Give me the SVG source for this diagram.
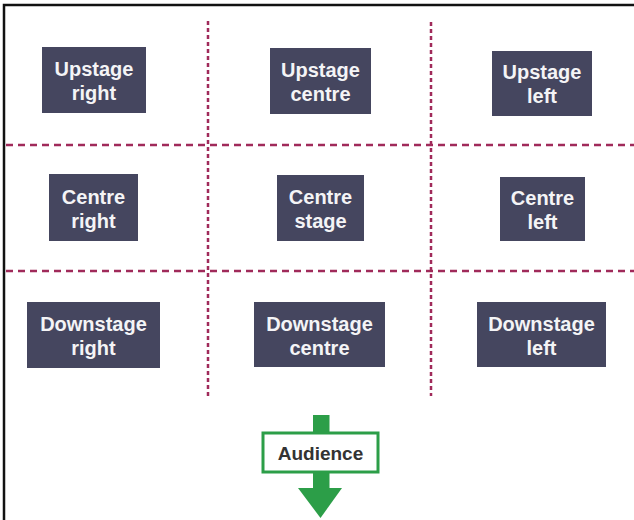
<svg xmlns="http://www.w3.org/2000/svg" width="634" height="520" viewBox="0 0 634 520">
<defs>
<style>
.box{fill:#45465f}
.lbl{font-family:"Liberation Sans",Arial,sans-serif;font-weight:bold;font-size:20px;fill:#f4f4f6;text-anchor:middle}
.hd{stroke:#a02a5a;stroke-width:2.5;stroke-dasharray:7 5;fill:none}
.vd{stroke:#a02a5a;stroke-width:2.5;stroke-dasharray:4 3;fill:none}
.aud{font-family:"Liberation Sans",Arial,sans-serif;font-weight:bold;font-size:19px;fill:#333333;text-anchor:middle}
</style>
</defs>
<rect x="0" y="0" width="634" height="520" fill="#ffffff"/>
<path d="M4 520 V5 H634" fill="none" stroke="#111111" stroke-width="2.5"/>
<g id="connectors">
<line class="hd" x1="6" y1="145" x2="634" y2="145"/>
<line class="hd" x1="6" y1="271" x2="634" y2="271"/>
<line class="vd" x1="208" y1="21" x2="208" y2="396"/>
<line class="vd" x1="431" y1="22" x2="431" y2="396"/>
</g>
<g id="upstage-right"><rect class="box" x="42" y="47" width="104" height="66"/><text class="lbl" x="94" y="76">Upstage</text><text class="lbl" x="94" y="100">right</text></g>
<g id="upstage-centre"><rect class="box" x="270" y="48" width="101" height="66"/><text class="lbl" x="320.5" y="77">Upstage</text><text class="lbl" x="320.5" y="101">centre</text></g>
<g id="upstage-left"><rect class="box" x="492" y="51" width="100" height="65"/><text class="lbl" x="542" y="79">Upstage</text><text class="lbl" x="542" y="103">left</text></g>
<g id="centre-right"><rect class="box" x="49" y="174" width="89" height="67"/><text class="lbl" x="93.5" y="204">Centre</text><text class="lbl" x="93.5" y="228">right</text></g>
<g id="centre-stage"><rect class="box" x="277" y="175" width="87" height="66"/><text class="lbl" x="320.5" y="204">Centre</text><text class="lbl" x="320.5" y="228">stage</text></g>
<g id="centre-left"><rect class="box" x="500" y="177" width="85" height="64"/><text class="lbl" x="542.5" y="205">Centre</text><text class="lbl" x="542.5" y="229">left</text></g>
<g id="downstage-right"><rect class="box" x="27" y="302" width="133" height="66"/><text class="lbl" x="93.5" y="331">Downstage</text><text class="lbl" x="93.5" y="355">right</text></g>
<g id="downstage-centre"><rect class="box" x="254" y="302" width="131" height="65"/><text class="lbl" x="319.5" y="331">Downstage</text><text class="lbl" x="319.5" y="355">centre</text></g>
<g id="downstage-left"><rect class="box" x="477" y="302" width="129" height="65"/><text class="lbl" x="541.5" y="331">Downstage</text><text class="lbl" x="541.5" y="355">left</text></g>
<g id="audience">
<rect x="313" y="415" width="16.5" height="75" fill="#2c9e48"/>
<polygon points="298,488 342,488 320.5,518" fill="#2c9e48"/>
<rect x="263" y="433" width="115" height="39" fill="#ffffff" stroke="#2c9e48" stroke-width="3"/>
<text class="aud" x="320.5" y="460">Audience</text>
</g>
</svg>
